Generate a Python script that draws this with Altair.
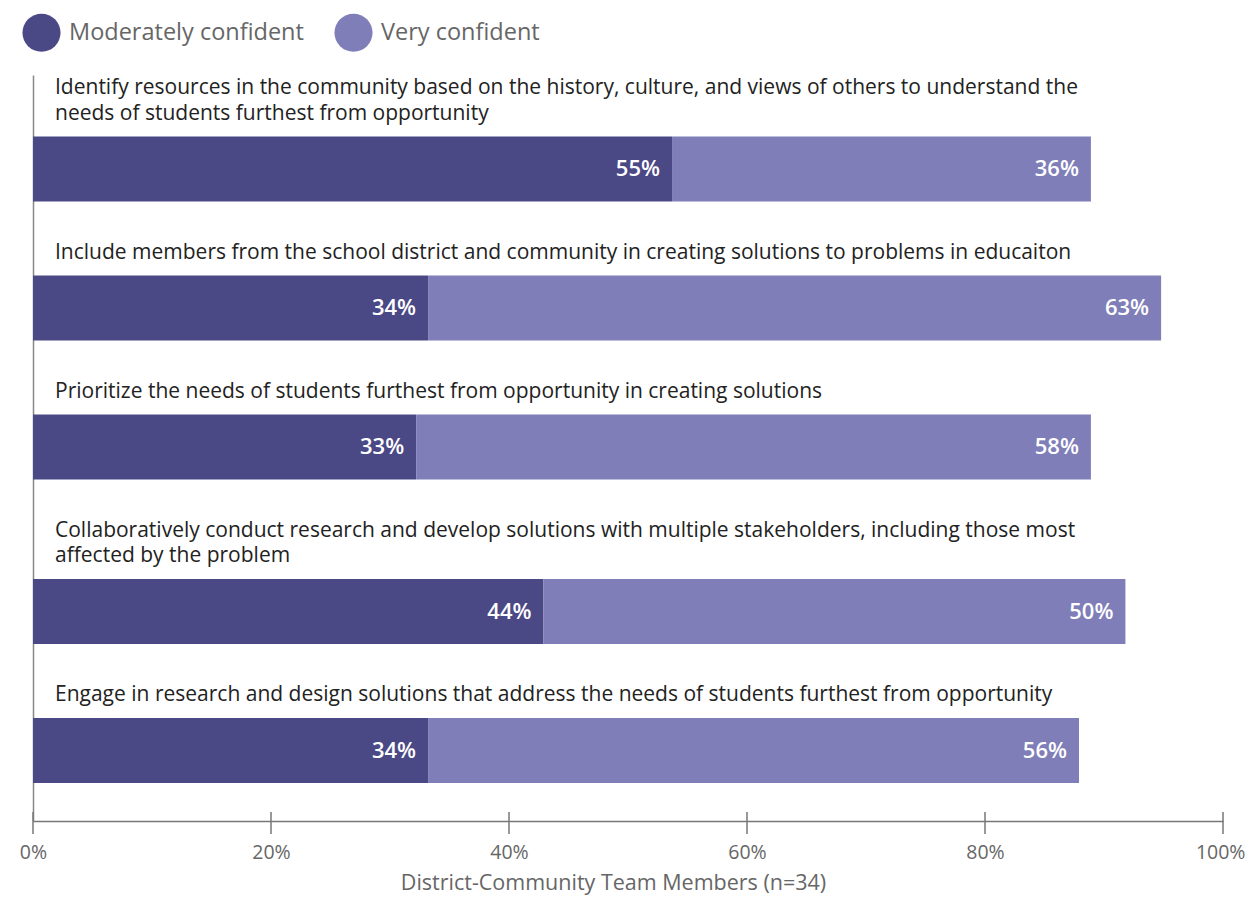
import altair as alt
import pandas as pd

# ---- data ----
items = [
    "Identify resources in the community based on the history, culture, and views of others to understand the\nneeds of students furthest from opportunity",
    "Include members from the school district and community in creating solutions to problems in educaiton",
    "Prioritize the needs of students furthest from opportunity in creating solutions",
    "Collaboratively conduct research and develop solutions with multiple stakeholders, including those most\naffected by the problem",
    "Engage in research and design solutions that address the needs of students furthest from opportunity",
]
series = ["Moderately confident", "Very confident"]
moderate = [53.7, 33.2, 32.2, 42.9, 33.2]     # bar lengths as drawn
very = [35.2, 61.6, 56.7, 48.9, 54.7]
moderate_labels = [55, 34, 33, 44, 34]       # printed percentages
very_labels = [36, 63, 58, 50, 56]
x_ticks = [0, 20, 40, 60, 80, 100]
x_title = "District-Community Team Members (n=34)"

# ---- layout (plot units = px) ----
W, H = 1190, 746
LINE_H = 25.5
FIRST_LINE = 12
LABEL_TO_BAR = 24
BAR_H = 65
BAR_GAP = 50
FONT = "Open Sans"
DARK, LIGHT = "#4B4886", "#7F7EB9"

bars, texts, cats = [], [], []
cursor = FIRST_LINE
for i, lab in enumerate(items):
    n = lab.count("\n") + 1
    cats.append({"label": lab, "y": cursor + 7})
    top = cursor + (n - 1) * LINE_H + LABEL_TO_BAR
    bot = top + BAR_H
    mid = (top + bot) / 2
    m, v = moderate[i], very[i]
    bars.append({"series": series[0], "x": 0, "x2": m, "y": top, "y2": bot})
    bars.append({"series": series[1], "x": m, "x2": m + v, "y": top, "y2": bot})
    texts.append({"t": f"{moderate_labels[i]}%", "x": m, "y": mid})
    texts.append({"t": f"{very_labels[i]}%", "x": m + v, "y": mid})
    cursor = bot + BAR_GAP

bars_df = pd.DataFrame(bars)
texts_df = pd.DataFrame(texts)
cats_df = pd.DataFrame(cats)
ticks_df = pd.DataFrame({"v": x_ticks})

xscale = alt.Scale(domain=[0, 100], nice=False, zero=True)
yscale = alt.Scale(domain=[0, H], reverse=True, nice=False, zero=True)

last_tick = f"datum.value === {x_ticks[-1]}"

bar_layer = alt.Chart(bars_df).mark_bar(cornerRadius=0).encode(
    x=alt.X("x:Q", scale=xscale,
            axis=alt.Axis(values=x_ticks, labelExpr="datum.value + '%'",
                          title=x_title, labelFlush=False,
                          labelAlign={"condition": {"test": last_tick, "value": "right"},
                                      "value": "center"},
                          labelOffset={"condition": {"test": last_tick, "value": 22},
                                       "value": 0},
                          ticks=False, grid=False, domainColor="#777", domainWidth=1.5,
                          labelFont=FONT, labelFontSize=19.5, labelColor="#666",
                          labelPadding=22, titleFont=FONT, titleFontSize=21.5,
                          titleFontWeight="normal", titleColor="#666", titlePadding=11,
                          titleX=580)),
    x2="x2:Q",
    y=alt.Y("y:Q", scale=yscale,
            axis=alt.Axis(domain=True, ticks=False, labels=False, grid=False,
                          title=None, domainColor="#888", domainWidth=1.5)),
    y2="y2:Q",
    color=alt.Color("series:N",
                    scale=alt.Scale(domain=series, range=[DARK, LIGHT]),
                    legend=alt.Legend(title=None, orient="none", legendX=-11, legendY=-62,
                                      direction="horizontal", symbolType="circle",
                                      symbolSize=1450, symbolStrokeWidth=0,
                                      labelFont=FONT, labelFontSize=23.5, labelColor="#666",
                                      labelOffset=8, columnPadding=30, labelLimit=0)),
)

val_layer = alt.Chart(texts_df).mark_text(
    align="right", baseline="middle", dx=-12, color="white",
    font=FONT, fontSize=22, fontWeight=600,
).encode(x=alt.X("x:Q", scale=xscale), y=alt.Y("y:Q", scale=yscale), text="t:N")

cat_layer = alt.Chart(cats_df).mark_text(
    align="left", baseline="alphabetic", dx=22, color="#222",
    font=FONT, fontSize=21, lineBreak="\n", lineHeight=LINE_H,
).encode(x=alt.value(0), y=alt.Y("y:Q", scale=yscale), text="label:N")

tick_layer = alt.Chart(ticks_df).mark_rule(color="#777", strokeWidth=1.5).encode(
    x=alt.X("v:Q", scale=xscale), y=alt.value(H - 9), y2=alt.value(H + 13)
)

chart = alt.layer(bar_layer, val_layer, cat_layer, tick_layer).properties(
    width=W, height=H,
    autosize=alt.AutoSizeParams(type="none"),
    padding={"left": 25, "top": 67, "right": 23, "bottom": 75},
).configure(background="white").configure_view(strokeWidth=0)

chart.save("out.html", embed_options={"renderer": "svg", "actions": False})
